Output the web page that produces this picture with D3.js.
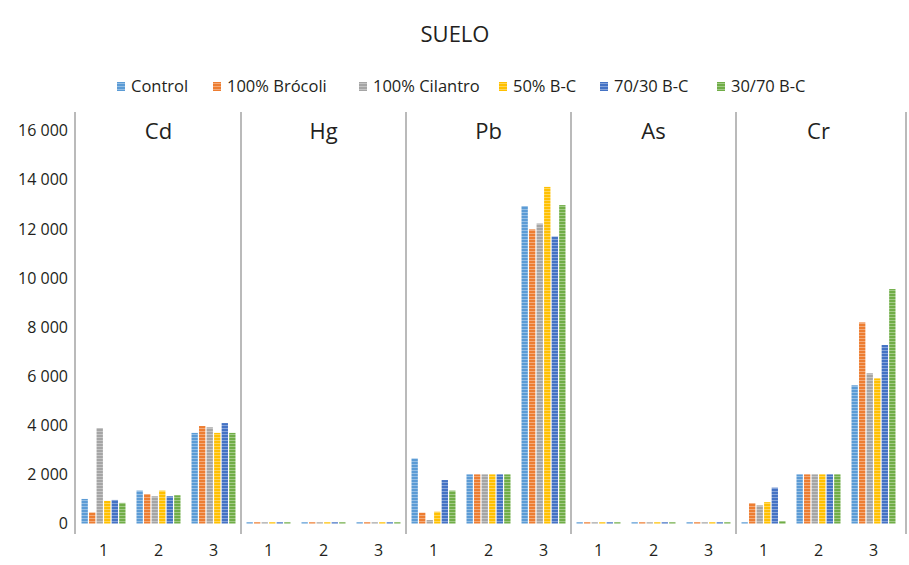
<!DOCTYPE html>
<html>
<head>
<meta charset="utf-8">
<script src="https://cdn.jsdelivr.net/npm/d3@7"></script>
<style>
  html, body { margin: 0; padding: 0; background: #fff; }
  svg { display: block; font-family: "Open Sans", "Noto Sans", sans-serif; }
</style>
</head>
<body>
<svg id="chart" width="909" height="565"></svg>
<script>
// ---- data ----
const title = "SUELO";
const metals = ["Cd", "Hg", "Pb", "As", "Cr"];
const categories = ["1", "2", "3"];
const seriesNames = ["Control", "100% Brócoli", "100% Cilantro", "50% B-C", "70/30 B-C", "30/70 B-C"];
const seriesColors = ["#5B9BD5", "#ED7D31", "#A5A5A5", "#FFC000", "#4472C4", "#70AD47"];
const yTicks = [0, 2000, 4000, 6000, 8000, 10000, 12000, 14000, 16000];
// values ordered: Cd1 Cd2 Cd3 | Hg1 Hg2 Hg3 | Pb1 Pb2 Pb3 | As1 As2 As3 | Cr1 Cr2 Cr3
const control  = [1000, 1340, 3690,  50, 50, 50,  2650, 2000, 12930,  50, 50, 50,   50, 2000, 5630];
const brocoli  = [ 450, 1200, 3970,  50, 50, 50,   440, 2000, 11980,  50, 50, 50,  830, 2000, 8190];
const cilantro = [3890, 1110, 3920,  50, 50, 50,   140, 2000, 12220,  50, 50, 50,  740, 2000, 6120];
const bc50     = [ 920, 1340, 3690,  50, 50, 50,   480, 2000, 13710,  50, 50, 50,  870, 2000, 5910];
const bc7030   = [ 960, 1110, 4090,  50, 50, 50,  1770, 2000, 11690,  50, 50, 50, 1460, 2000, 7270];
const bc3070   = [ 840, 1150, 3690,  50, 50, 50,  1340, 2000, 12970,  50, 50, 50,  100, 2000, 9550];
const seriesValues = [control, brocoli, cilantro, bc50, bc7030, bc3070];

// ---- layout ----
const svg = d3.select("#chart");
const plotLeft = 76, plotRight = 901, plotTop = 112, plotBottom = 534;
const y = d3.scaleLinear().domain([0, 16000]).range([523.5, 130.7]);
const xPanel = d3.scaleBand().domain(metals).range([plotLeft, plotRight]).padding(0);
const xCat = d3.scaleBand().domain(categories).range([0, xPanel.bandwidth()])
  .paddingInner(0.2).paddingOuter(0.1);
const xSer = d3.scaleBand().domain(seriesNames).range([0, xCat.bandwidth()]).paddingInner(0.16);

// striped fill patterns
const defs = svg.append("defs");
seriesNames.forEach((s, i) => {
  const p = defs.append("pattern").attr("id", "pat" + i)
    .attr("patternUnits", "userSpaceOnUse").attr("width", 20).attr("height", 3);
  p.append("rect").attr("width", 20).attr("height", 3).attr("fill", seriesColors[i]);
  p.append("rect").attr("y", 2).attr("width", 20).attr("height", 1).attr("fill", "#fff").attr("opacity", 0.35);
});

// title
svg.append("text").attr("x", 455).attr("y", 42).attr("text-anchor", "middle")
  .attr("font-size", 22).attr("fill", "#231f20").text(title);

// legend
const legendX = [117, 213, 359, 499, 600, 717];
const legend = svg.append("g");
seriesNames.forEach((s, i) => {
  const g = legend.append("g").attr("transform", `translate(${legendX[i]},0)`);
  g.append("rect").attr("x", 0).attr("y", 82).attr("width", 8).attr("height", 9)
    .attr("fill", `url(#pat${i})`);
  g.append("text").attr("x", 14).attr("y", 86.5).attr("dy", "0.35em")
    .attr("font-size", 16.5).attr("fill", "#231f20").text(s);
});

// y axis labels
const fmt = d3.formatLocale({ decimal: ",", thousands: "\u00a0", grouping: [3], currency: ["", ""] }).format(",");
const yAxis = svg.append("g").attr("transform", `translate(75,0)`)
  .call(d3.axisLeft(y).tickValues(yTicks).tickSize(0).tickPadding(7).tickFormat(fmt));
yAxis.select(".domain").remove();
yAxis.selectAll("text").attr("font-size", 16).attr("fill", "#231f20")
  .attr("font-family", "'Open Sans', sans-serif");

// separators
const seps = [75].concat(metals.map(m => xPanel(m) + xPanel.bandwidth()));
seps[seps.length - 1] = 906;
svg.append("g").selectAll("line").data(seps).join("line")
  .attr("x1", d => d).attr("x2", d => d).attr("y1", plotTop).attr("y2", plotBottom)
  .attr("stroke", "#a3a3a3").attr("stroke-width", 1.5);

// panels
metals.forEach((m, mi) => {
  const panel = svg.append("g").attr("transform", `translate(${xPanel(m)},0)`);
  panel.append("text").attr("x", xPanel.bandwidth() / 2).attr("y", 131).attr("dy", "0.35em")
    .attr("text-anchor", "middle").attr("font-size", 22).attr("fill", "#231f20").text(m);

  categories.forEach((c, ci) => {
    const g = panel.append("g").attr("transform", `translate(${xCat(c)},0)`);
    const rows = seriesNames.map((s, si) => ({ s, si, v: seriesValues[si][mi * 3 + ci] }));
    g.selectAll("rect").data(rows).join("rect")
      .attr("x", d => xSer(d.s)).attr("width", xSer.bandwidth())
      .attr("y", d => y(d.v)).attr("height", d => y(0) - y(d.v))
      .attr("fill", d => `url(#pat${d.si})`);
  });

  const xa = panel.append("g").attr("transform", `translate(0,${plotBottom})`)
    .call(d3.axisBottom(xCat).tickSize(0).tickPadding(11));
  xa.select(".domain").remove();
  xa.selectAll("text").attr("font-size", 16).attr("fill", "#231f20")
    .attr("font-family", "'Open Sans', sans-serif");
});
</script>
</body>
</html>
